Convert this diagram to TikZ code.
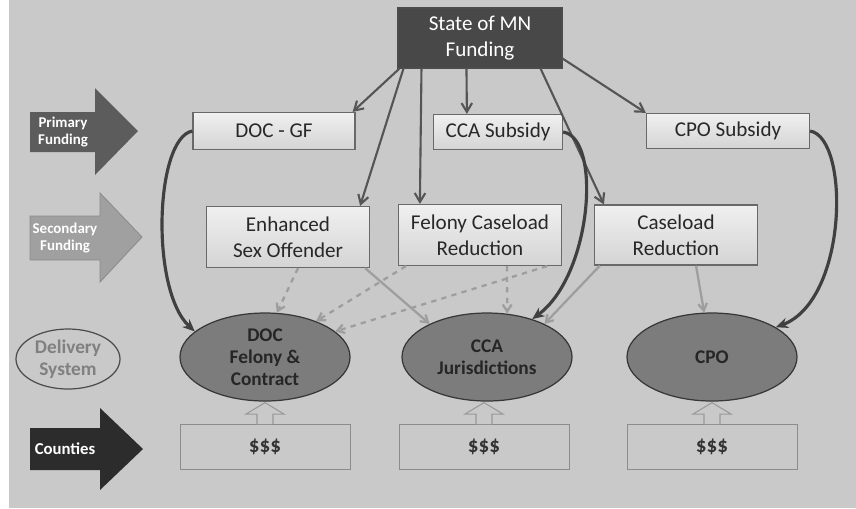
\documentclass[tikz,border=0pt]{standalone}
\usepackage{fontspec}
\setmainfont{Carlito}
\usepackage{tikz}
\usetikzlibrary{arrows.meta, positioning, shapes.geometric, calc}
\usepackage{xcolor}
\definecolor{bgGray}{RGB}{201, 201, 201}
\definecolor{titleDark}{RGB}{72, 72, 72}
\definecolor{boxBorder}{RGB}{105, 105, 105}
\definecolor{boxTop}{RGB}{240, 240, 240}
\definecolor{boxBottom}{RGB}{212, 212, 212}
\definecolor{boxText}{RGB}{40, 40, 40}
\definecolor{ellFill}{RGB}{124, 124, 124}
\definecolor{ellBorder}{RGB}{55, 55, 55}
\definecolor{primFill}{RGB}{92, 92, 92}
\definecolor{secFill}{RGB}{160, 160, 160}
\definecolor{cntFill}{RGB}{44, 44, 44}
\definecolor{linkGray}{RGB}{85, 85, 85}
\definecolor{faintGray}{RGB}{158, 158, 158}

\begin{document}
\begin{tikzpicture}[
    x=0.2mm, y=-0.2mm,
    every node/.style={font=\fontsize{12}{15}\selectfont, text=boxText},
    titlebox/.style={rectangle, draw=black!70, fill=titleDark, text=white, align=center, minimum width=32.8mm, minimum height=12mm, line width=0.6pt},
    fundbox/.style={rectangle, draw=boxBorder, top color=boxTop, bottom color=boxBottom, align=center, line width=0.7pt, inner sep=1pt},
    deliver/.style={ellipse, draw=ellBorder, fill=ellFill, align=center, minimum width=34mm, minimum height=17.6mm, inner sep=0pt, line width=0.7pt, font=\fontsize{11}{12.5}\selectfont\bfseries, text=black!85},
    money/.style={rectangle, draw=black!45, minimum width=34mm, minimum height=9mm, line width=0.5pt, font=\fontsize{12}{14}\selectfont\bfseries, text=black!80},
    sidetxt/.style={align=center, text=white, font=\fontsize{8.5}{10}\selectfont\bfseries},
    fund/.style={-{Straight Barb[length=5pt,width=6pt]}, draw=linkGray, line width=1.2pt},
    loopback/.style={-{Stealth[length=7pt,width=6pt]}, draw=black!75, line width=1.8pt},
    faint/.style={-{Straight Barb[length=4pt,width=5pt]}, draw=faintGray, line width=1.3pt},
    upblock/.style={fill=bgGray, draw=black!40, line width=0.6pt},
]
% background
\fill[bgGray] (0,0) rectangle (856,508);
\fill[white] (0,0) rectangle (9,508);
\useasboundingbox (0,0) rectangle (856,508);

% side arrows
\fill[primFill] (30,112) -- (95,112) -- (95,88) -- (138,131) -- (95,175) -- (95,152) -- (30,152) -- cycle;
\node[sidetxt] (prim) at (63,132) {Primary\\Funding};
\filldraw[fill=secFill, draw=black!45, line width=0.5pt] (30,216) -- (100,216) -- (100,193) -- (142,237) -- (100,282) -- (100,260) -- (30,260) -- cycle;
\node[sidetxt] (sec) at (65,238) {Secondary\\Funding};
\node[ellipse, draw=black!70, line width=0.7pt, minimum width=20.8mm, minimum height=12mm, inner sep=0pt, align=center, font=\fontsize{11}{12.5}\selectfont\bfseries, text=black!50] (dsys) at (68,359) {Delivery\\System};
\fill[cntFill] (30,428) -- (100,428) -- (100,408) -- (143,449) -- (100,490) -- (100,470) -- (30,470) -- cycle;
\node[sidetxt, font=\fontsize{9.5}{11}\selectfont\bfseries] (cnt) at (65,449) {Counties};

% funding boxes
\node[titlebox] (title) at (480,38) {State of MN\\Funding};
\node[fundbox, minimum width=32.4mm, minimum height=7.4mm] (docgf) at (274,131) {DOC - GF};
\node[fundbox, minimum width=25.8mm, minimum height=7mm] (ccasub) at (498,132) {CCA Subsidy};
\node[fundbox, minimum width=32.6mm, minimum height=7mm] (cposub) at (728,131) {CPO Subsidy};
\node[fundbox, minimum width=32.6mm, minimum height=12.2mm] (enh) at (288,237) {Enhanced\\Sex Offender};
\node[fundbox, minimum width=32.6mm, minimum height=12.2mm] (fel) at (480,235) {Felony Caseload\\Reduction};
\node[fundbox, minimum width=32.6mm, minimum height=12mm] (cas) at (676,235) {Caseload\\Reduction};

% delivery system
\node[deliver] (doc) at (265,357) {DOC\\Felony \&\\Contract};
\node[deliver] (cca) at (487,357) {CCA\\Jurisdictions};
\node[deliver] (cpo) at (712,357) {CPO};

% counties
\node[money] (m1) at (265,447) {\$\$\$};
\node[money] (m2) at (484,447) {\$\$\$};
\node[money] (m3) at (712,447) {\$\$\$};
\path[upblock] ($(m1.north)+(-8,0)$) -- ++(0,-10) -- ++(-11,0) -- ($(doc.south)+(0,1)$) -- ($(m1.north)+(19,-10)$) -- ++(-11,0) -- ++(0,10);
\path[upblock] ($(m2.north)+(-8,0)$) -- ++(0,-10) -- ++(-11,0) -- ($(cca.south)+(-3,1)$) -- ($(m2.north)+(19,-10)$) -- ++(-11,0) -- ++(0,10);
\path[upblock] ($(m3.north)+(-8,0)$) -- ++(0,-10) -- ++(-11,0) -- ($(cpo.south)+(0,1)$) -- ($(m3.north)+(19,-10)$) -- ++(-11,0) -- ++(0,10);

% state funding
\draw[fund] ($(title.south west)+(2,0)$) -- ($(docgf.north east)+(-3,0)$);
\draw[fund] ($(title.south west)+(6,0)$) -- ($(enh.north east)+(-10,0)$);
\draw[fund] ($(title.south west)+(24,0)$) -- ($(fel.north west)+(22,0)$);
\draw[fund] ($(title.south west)+(69,0)$) -- ($(ccasub.north west)+(34,0)$);
\draw[fund] ($(title.south east)+(-22,0)$) -- ($(cas.north west)+(10,0)$);
\draw[fund] ($(title.south east)+(0,-10)$) -- (cposub.north west);

% subsidies to delivery
\draw[loopback] (docgf.west) .. controls (155,138) and (150,290) .. (doc.160);
\draw[loopback] (ccasub.east) .. controls (602,138) and (592,275) .. (cca.40);
\draw[loopback] (cposub.east) .. controls (850,138) and (848,300) .. (cpo.25);

% secondary funding
\draw[faint, dashed] ($(enh.south)+(10,0)$) -- (doc.75);
\draw[faint] ($(enh.south east)+(-5,0)$) -- (cca.150);
\draw[faint, dashed] ($(fel.south west)+(8,0)$) -- (doc.35);
\draw[faint, dashed] ($(fel.south east)+(-15,0)$) -- (doc.20);
\draw[faint, dashed] ($(fel.south)+(27,0)$) -- (cca.65);
\draw[faint] ($(cas.south west)+(6,0)$) -- (cca.30);
\draw[faint] ($(cas.south)+(20,0)$) -- (cpo.100);
\end{tikzpicture}
\end{document}
